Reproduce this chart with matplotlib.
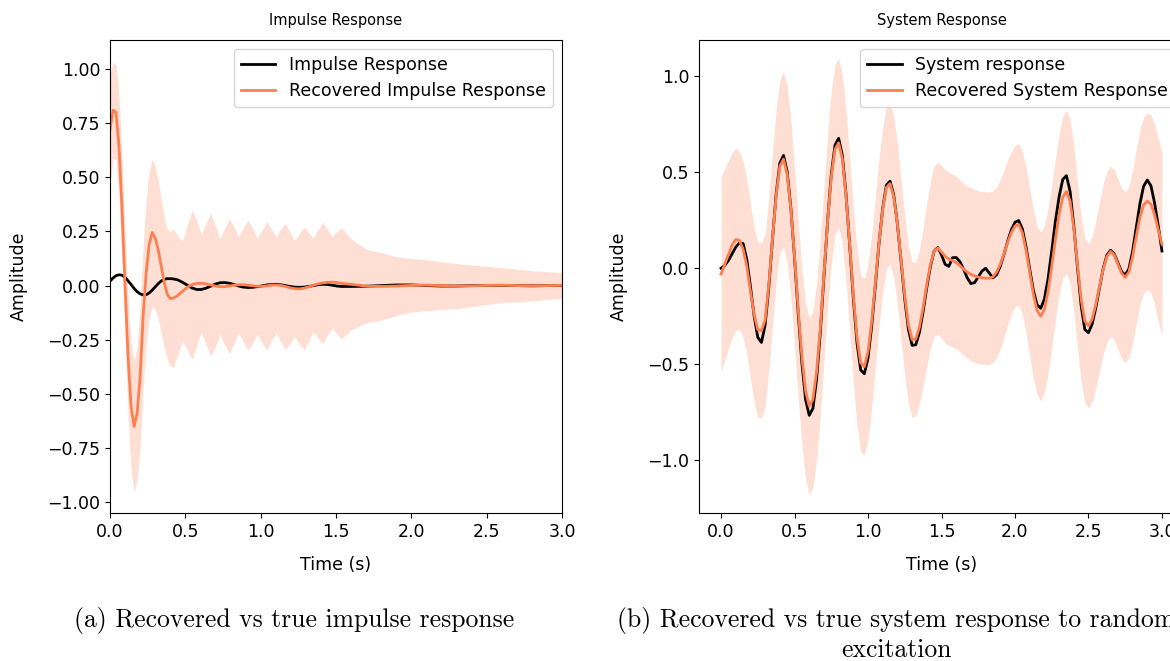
import matplotlib
matplotlib.use('Agg')
import matplotlib.pyplot as plt
import numpy as np

plt.rcParams.update({'font.size': 12.5})

# ---- (a) impulse response ----
imp_t = [0.00, 0.02, 0.04, 0.06, 0.08, 0.10, 0.12, 0.14, 0.16, 0.18, 0.20,
         0.22, 0.24, 0.26, 0.28, 0.30, 0.32, 0.34, 0.36, 0.38, 0.40,
         0.420, 0.451, 0.482, 0.513, 0.544, 0.575, 0.606, 0.637, 0.668, 0.699,
         0.730, 0.761, 0.792, 0.823, 0.854, 0.885, 0.916, 0.947, 0.978, 1.009,
         1.040, 1.071, 1.102, 1.133, 1.164, 1.195, 1.226, 1.257, 1.288, 1.319,
         1.350, 1.381, 1.412, 1.443, 1.474, 1.505, 1.536,
         1.6, 1.7, 1.8, 1.9, 2.0, 2.1, 2.2, 2.3, 2.4, 2.5, 2.6, 2.7, 2.8, 2.9, 3.0]

imp_true = [0.020, 0.035, 0.046, 0.050, 0.048, 0.038, 0.022, 0.005, -0.013, -0.028, -0.038,
            -0.043, -0.042, -0.034, -0.021, -0.006, 0.009, 0.021, 0.029, 0.032, 0.032,
            0.031, 0.026, 0.015, 0.002, -0.011, -0.018, -0.018, -0.012, -0.003, 0.007,
            0.013, 0.014, 0.011, 0.005, -0.002, -0.007, -0.009, -0.008, -0.005, -0.001,
            0.003, 0.005, 0.006, 0.004, 0.000, -0.004, -0.007, -0.008, -0.007, -0.004,
            0.000, 0.004, 0.006, 0.005, 0.002, -0.002, -0.004,
            -0.004, -0.003, 0.000, 0.003, 0.003, 0.000, -0.002, -0.002, 0.000, 0.001,
            0.001, 0.000, -0.001, 0.000, 0.000]

imp_rec = [0.72, 0.81, 0.80, 0.64, 0.35, 0.00, -0.33, -0.56, -0.65, -0.59, -0.42,
           -0.14, 0.06, 0.19, 0.245, 0.22, 0.165, 0.09, 0.015, -0.04, -0.06,
           -0.058, -0.045, -0.025, -0.008, 0.004, 0.010, 0.011, 0.008, 0.003, -0.002,
           -0.005, -0.005, -0.002, 0.002, 0.004, 0.004, 0.002, -0.001, -0.003, -0.003,
           -0.001, 0.002, 0.003, 0.001, -0.004, -0.010, -0.014, -0.015, -0.012, -0.006,
           0.002, 0.008, 0.012, 0.015, 0.016, 0.014, 0.010,
           0.006, -0.002, -0.004, -0.002, 0.001, 0.002, 0.000, -0.002, -0.001, 0.001,
           0.002, 0.000, -0.001, 0.000, 0.001]

imp_std = [0.13, 0.11, 0.11, 0.115, 0.12, 0.125, 0.135, 0.145, 0.15, 0.155, 0.16,
           0.165, 0.165, 0.17, 0.17, 0.165, 0.16, 0.155, 0.15, 0.15, 0.155,
           0.16, 0.135, 0.115, 0.145, 0.172, 0.145, 0.112, 0.14, 0.165, 0.14,
           0.11, 0.135, 0.155, 0.135, 0.11, 0.132, 0.15, 0.132, 0.11, 0.13,
           0.148, 0.13, 0.11, 0.13, 0.145, 0.128, 0.11, 0.128, 0.142, 0.125,
           0.108, 0.125, 0.14, 0.122, 0.105, 0.118, 0.128,
           0.105, 0.085, 0.078, 0.068, 0.062, 0.059, 0.055, 0.052, 0.048, 0.044,
           0.040, 0.038, 0.035, 0.032, 0.030]

# ---- (b) system response, sampled every 0.025 s ----
sys_t = np.linspace(0.0, 3.0, 121)

sys_true = [0.000, 0.015, 0.040, 0.075, 0.110, 0.132, 0.129, 0.047, -0.095, -0.249,
            -0.360, -0.387, -0.296, -0.099, 0.151, 0.388, 0.548, 0.588, 0.504, 0.314,
            0.055, -0.235, -0.494, -0.684, -0.767, -0.731, -0.579, -0.338, -0.045, 0.248,
            0.489, 0.641, 0.678, 0.590, 0.389, 0.123, -0.155, -0.389, -0.530, -0.550,
            -0.468, -0.303, -0.089, 0.132, 0.313, 0.433, 0.454, 0.382, 0.230, 0.036,
            -0.161, -0.320, -0.402, -0.399, -0.334, -0.225, -0.100, 0.011, 0.090, 0.108,
            0.070, 0.020, 0.010, 0.055, 0.056, 0.035, -0.005, -0.050, -0.080, -0.075,
            -0.045, -0.015, 0.000, -0.025, -0.050, -0.034, 0.010, 0.072, 0.141, 0.200,
            0.240, 0.249, 0.206, 0.113, -0.004, -0.115, -0.190, -0.209, -0.161, -0.054,
            0.091, 0.245, 0.372, 0.463, 0.483, 0.401, 0.223, 0.006, -0.194, -0.319,
            -0.336, -0.291, -0.206, -0.102, -0.002, 0.068, 0.094, 0.075, 0.029, -0.017,
            -0.036, -0.003, 0.088, 0.212, 0.336, 0.427, 0.460, 0.430, 0.340, 0.220,
            0.090]

sys_rec = [-0.030, 0.020, 0.070, 0.120, 0.150, 0.145, 0.100, 0.010, -0.120, -0.240,
           -0.320, -0.325, -0.270, -0.084, 0.153, 0.379, 0.531, 0.569, 0.489, 0.308,
           0.062, -0.213, -0.459, -0.640, -0.719, -0.684, -0.540, -0.311, -0.033, 0.246,
           0.475, 0.619, 0.654, 0.571, 0.380, 0.127, -0.137, -0.360, -0.494, -0.513,
           -0.435, -0.278, -0.075, 0.135, 0.307, 0.421, 0.441, 0.373, 0.229, 0.044,
           -0.143, -0.294, -0.372, -0.369, -0.307, -0.204, -0.085, 0.020, 0.090, 0.105,
           0.085, 0.062, 0.048, 0.040, 0.030, 0.015, -0.005, -0.020, -0.032, -0.040,
           -0.046, -0.050, -0.052, -0.052, -0.045, -0.020, 0.020, 0.075, 0.135, 0.185,
           0.220, 0.228, 0.185, 0.095, -0.020, -0.135, -0.220, -0.250, -0.215, -0.120,
           0.010, 0.150, 0.280, 0.370, 0.400, 0.350, 0.210, 0.020, -0.160, -0.275,
           -0.300, -0.265, -0.190, -0.095, -0.005, 0.060, 0.088, 0.070, 0.022, -0.025,
           -0.048, -0.020, 0.060, 0.165, 0.265, 0.330, 0.350, 0.335, 0.280, 0.200,
           0.125]

sys_std = [0.255, 0.250, 0.245, 0.240, 0.238,
           0.232, 0.230, 0.228, 0.228, 0.228, 0.228, 0.228, 0.226, 0.225, 0.225,
           0.225, 0.226, 0.228, 0.230, 0.230, 0.230, 0.230, 0.230, 0.230, 0.230,
           0.230, 0.230, 0.230, 0.228, 0.226, 0.225, 0.222, 0.220, 0.220, 0.222,
           0.225, 0.228, 0.230, 0.230, 0.230, 0.228,
           0.225, 0.222, 0.218, 0.215, 0.212, 0.210, 0.210, 0.210, 0.210, 0.208,
           0.205, 0.203, 0.200, 0.200, 0.205, 0.212,
           0.218, 0.222, 0.224, 0.225, 0.226, 0.226, 0.225, 0.225, 0.224, 0.224,
           0.224, 0.225, 0.225, 0.225, 0.225, 0.225, 0.225, 0.224, 0.222, 0.220,
           0.218, 0.215, 0.212, 0.210,
           0.210, 0.212, 0.215, 0.218, 0.220, 0.220, 0.220, 0.218, 0.215, 0.212,
           0.210, 0.210, 0.210, 0.212, 0.215, 0.215, 0.215, 0.215,
           0.215, 0.215, 0.215, 0.218, 0.220, 0.222, 0.222, 0.222, 0.222, 0.222,
           0.222, 0.222, 0.222, 0.224, 0.226, 0.228,
           0.230, 0.230, 0.232, 0.235, 0.238, 0.240]

REC_COLOR = 'coral'


def draw(ax, t, true_vals, rec_vals, std_vals, true_label, rec_label, title):
    t = np.asarray(t)
    rec = np.asarray(rec_vals)
    std = np.asarray(std_vals)
    ax.plot(t, true_vals, color='black', lw=2, label=true_label)
    ax.plot(t, rec, color=REC_COLOR, lw=2, label=rec_label)
    ax.fill_between(t, rec - 2 * std, rec + 2 * std, color=REC_COLOR, alpha=0.25, lw=0)
    ax.set_title(title, fontsize=10.5, pad=11)
    ax.set_xlabel('Time (s)', labelpad=11)
    ax.set_ylabel('Amplitude', labelpad=14)
    ax.set_xticks([0.0, 0.5, 1.0, 1.5, 2.0, 2.5, 3.0])
    ax.legend(loc='upper right')


fig = plt.figure(figsize=(11.7, 6.61), dpi=100)

ax1 = fig.add_axes([110 / 1170, 148 / 661, 452 / 1170, 473 / 661])
draw(ax1, imp_t, imp_true, imp_rec, imp_std,
     'Impulse Response', 'Recovered Impulse Response', 'Impulse Response')
ax1.set_xlim(0, 3.0)
ax1.set_ylim(-1.05, 1.134)
ax1.set_yticks([-1.0, -0.75, -0.5, -0.25, 0.0, 0.25, 0.5, 0.75, 1.0])
ax1.set_yticklabels(['%.2f' % v if v >= 0 else '\u2212%.2f' % -v
                     for v in [-1.0, -0.75, -0.5, -0.25, 0.0, 0.25, 0.5, 0.75, 1.0]])

ax2 = fig.add_axes([699 / 1170, 148 / 661, 485 / 1170, 473 / 661])
draw(ax2, sys_t, sys_true, sys_rec, sys_std,
     'System response', 'Recovered System Response', 'System Response')
ax2.set_xlim(-0.15, 3.15)
ax2.set_ylim(-1.276, 1.19)
ax2.set_yticks([-1.0, -0.5, 0.0, 0.5, 1.0])

fig.text(294 / 1170, 1 - 620 / 661, '(a) Recovered vs true impulse response',
         family='cmr10', fontsize=18.5, ha='center', va='center')
fig.text(896 / 1170, 1 - 620 / 661, '(b) Recovered vs true system response to random',
         family='cmr10', fontsize=18.5, ha='center', va='center')
fig.text(896 / 1170, 1 - 650 / 661, 'excitation',
         family='cmr10', fontsize=18.5, ha='center', va='center')

fig.savefig('out.png', dpi=100)
